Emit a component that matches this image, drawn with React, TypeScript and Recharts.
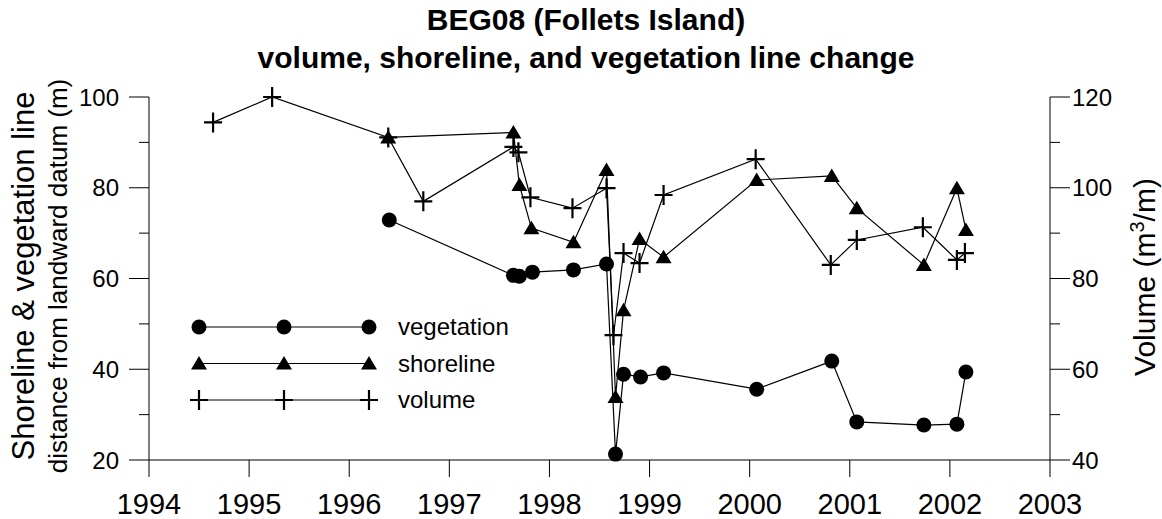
import React from 'react';
import { LineChart, Line, XAxis, YAxis, Legend } from 'recharts';

// ─── Data ────────────────────────────────────────────────────────────────────

const YEAR_TICKS = [1994, 1995, 1996, 1997, 1998, 1999, 2000, 2001, 2002, 2003];
const LEFT_TICKS = [20, 30, 40, 50, 60, 70, 80, 90, 100];
const RIGHT_TICKS = [40, 50, 60, 70, 80, 90, 100, 110, 120];

const VEG_YEARS = [1996.40, 1997.64, 1997.70, 1997.83, 1998.24, 1998.57, 1998.66, 1998.74, 1998.91, 1999.14, 2000.07, 2000.82, 2001.07, 2001.74, 2002.07, 2002.16];
const VEG_VALUES = [72.9, 60.7, 60.5, 61.4, 61.9, 63.2, 21.3, 38.9, 38.3, 39.2, 35.6, 41.8, 28.4, 27.7, 27.9, 39.4];

const SHORE_YEARS = [1996.39, 1997.64, 1997.70, 1997.82, 1998.24, 1998.57, 1998.66, 1998.74, 1998.90, 1999.14, 2000.07, 2000.82, 2001.07, 2001.74, 2002.07, 2002.16];
const SHORE_VALUES = [91.1, 92.2, 80.6, 71.1, 68.0, 83.9, 33.9, 53.0, 68.7, 64.7, 81.7, 82.6, 75.5, 63.0, 79.9, 70.7];

const VOL_YEARS = [1994.64, 1995.23, 1996.39, 1996.74, 1997.64, 1997.69, 1997.81, 1998.23, 1998.57, 1998.64, 1998.74, 1998.90, 1999.14, 2000.06, 2000.81, 2001.07, 2001.73, 2002.07, 2002.15];
const VOL_VALUES = [114.4, 120.0, 111.1, 97.0, 109.0, 107.8, 97.9, 95.5, 99.9, 67.5, 85.6, 83.4, 98.4, 106.3, 83.0, 88.5, 91.3, 84.1, 85.6];

const LEGEND_ORDER = ['vegetation', 'shoreline', 'volume'];

const toPoints = (years: number[], values: number[]) =>
  years.map((year, i) => ({ year, value: values[i] }));

const vegetation = toPoints(VEG_YEARS, VEG_VALUES);
const shoreline = toPoints(SHORE_YEARS, SHORE_VALUES);
const volume = toPoints(VOL_YEARS, VOL_VALUES);

// ─── Layout / style ──────────────────────────────────────────────────────────

const W = 1162;
const H = 519;
const FONT = '"Liberation Sans", Arial, sans-serif';
const PLOT_LEFT = 149;
const PLOT_RIGHT = 1050;

// ─── Markers ─────────────────────────────────────────────────────────────────

const CircleMark = ({ cx, cy }: { cx: number; cy: number }) => (
  <circle cx={cx} cy={cy} r={7.5} fill="#000" />
);

const TriangleMark = ({ cx, cy }: { cx: number; cy: number }) => (
  <path d={`M${cx},${cy - 7.5} L${cx + 8},${cy + 6} L${cx - 8},${cy + 6} Z`} fill="#000" />
);

const CrossMark = ({ cx, cy }: { cx: number; cy: number }) => (
  <path
    d={`M${cx - 9},${cy} H${cx + 9} M${cx},${cy - 10} V${cy + 10}`}
    stroke="#000"
    strokeWidth={2.2}
    fill="none"
  />
);

const MARKS: Record<string, (p: { cx: number; cy: number }) => React.ReactElement> = {
  vegetation: CircleMark,
  shoreline: TriangleMark,
  volume: CrossMark,
};

// ─── Axis ticks ──────────────────────────────────────────────────────────────

const LeftTick = (props: any) => {
  const { y, payload } = props;
  const major = (payload.value - 20) % 20 === 0;
  return (
    <g>
      <line x1={PLOT_LEFT - (major ? 20 : 10)} x2={PLOT_LEFT} y1={y} y2={y} stroke="#000" />
      {major && (
        <text x={119} y={y + 8.5} textAnchor="end" fontSize={24} fontFamily={FONT} fill="#000">
          {payload.value}
        </text>
      )}
    </g>
  );
};

const RightTick = (props: any) => {
  const { y, payload } = props;
  const major = payload.value % 20 === 0;
  return (
    <g>
      <line x1={PLOT_RIGHT} x2={PLOT_RIGHT + (major ? 20 : 10)} y1={y} y2={y} stroke="#000" />
      {major && (
        <text x={1072} y={y + 8.5} textAnchor="start" fontSize={24} fontFamily={FONT} fill="#000">
          {payload.value}
        </text>
      )}
    </g>
  );
};

const YearTick = (props: any) => {
  const { x, payload } = props;
  return (
    <text x={x} y={514} textAnchor="middle" fontSize={29} fontFamily={FONT} fill="#000">
      {payload.value}
    </text>
  );
};

// ─── Axis titles ─────────────────────────────────────────────────────────────

const LeftTitle = () => (
  <g fontFamily={FONT} fill="#000">
    <text transform="translate(34,276) rotate(-90)" textAnchor="middle" fontSize={31}>
      Shoreline &amp; vegetation line
    </text>
    <text transform="translate(67,276) rotate(-90)" textAnchor="middle" fontSize={26}>
      distance from landward datum (m)
    </text>
  </g>
);

const RightTitle = () => (
  <text transform="translate(1155,277) rotate(-90)" textAnchor="middle" fontSize={30} fontFamily={FONT} fill="#000">
    Volume (m
    <tspan fontSize={20} dy={-11}>3</tspan>
    <tspan dy={11}>/m)</tspan>
  </text>
);

// ─── Legend ──────────────────────────────────────────────────────────────────

const LegendBox = () => (
  <svg width={270} height={110} style={{ overflow: 'visible' }}>
    {LEGEND_ORDER.map((name, i) => {
      const y = 17 + i * 36.5;
      const Mark = MARKS[name];
      return (
        <g key={name}>
          <line x1={14} x2={184} y1={y} y2={y} stroke="#000" strokeWidth={1} />
          {[14, 99, 184].map((x) => (
            <Mark key={x} cx={x} cy={y} />
          ))}
          <text x={213} y={y + 8} fontSize={24} fontFamily={FONT} fill="#000">
            {name}
          </text>
        </g>
      );
    })}
  </svg>
);

// ─── Chart ───────────────────────────────────────────────────────────────────

export default function App() {
  return (
    <div style={{ position: 'absolute', left: 0, top: 0, width: W, height: H, background: '#fff' }}>
      <LineChart width={W} height={H} margin={{ top: 97, right: 0, bottom: 0, left: 0 }}>
        <XAxis
          dataKey="year"
          type="number"
          domain={[1994, 2003]}
          ticks={YEAR_TICKS}
          interval={0}
          height={59}
          tickSize={17}
          axisLine={{ stroke: '#000' }}
          tickLine={{ stroke: '#000' }}
          tick={<YearTick />}
        />
        <YAxis
          yAxisId="left"
          orientation="left"
          domain={[20, 100]}
          ticks={LEFT_TICKS}
          interval={0}
          width={149}
          axisLine={{ stroke: '#000' }}
          tickLine={false}
          tick={<LeftTick />}
          label={{ content: () => <LeftTitle /> }}
        />
        <YAxis
          yAxisId="right"
          orientation="right"
          domain={[40, 120]}
          ticks={RIGHT_TICKS}
          interval={0}
          width={112}
          axisLine={{ stroke: '#000' }}
          tickLine={false}
          tick={<RightTick />}
          label={{ content: () => <RightTitle /> }}
        />
        <Legend
          layout="vertical"
          align="center"
          verticalAlign="middle"
          wrapperStyle={{ left: 185, top: 310, width: 270, height: 110 }}
          content={() => <LegendBox />}
        />
        <Line
          yAxisId="left"
          data={vegetation}
          dataKey="value"
          name="vegetation"
          stroke="#000"
          strokeWidth={1.2}
          isAnimationActive={false}
          activeDot={false}
          dot={(p: any) => <CircleMark key={`veg-${p.index}`} cx={p.cx} cy={p.cy} />}
        />
        <Line
          yAxisId="left"
          data={shoreline}
          dataKey="value"
          name="shoreline"
          stroke="#000"
          strokeWidth={1.2}
          isAnimationActive={false}
          activeDot={false}
          dot={(p: any) => <TriangleMark key={`sh-${p.index}`} cx={p.cx} cy={p.cy} />}
        />
        <Line
          yAxisId="right"
          data={volume}
          dataKey="value"
          name="volume"
          stroke="#000"
          strokeWidth={1.2}
          isAnimationActive={false}
          activeDot={false}
          dot={(p: any) => <CrossMark key={`vol-${p.index}`} cx={p.cx} cy={p.cy} />}
        />
      </LineChart>
      <svg
        width={W}
        height={90}
        style={{ position: 'absolute', left: 0, top: 0, pointerEvents: 'none' }}
      >
        <g fontFamily={FONT} fontWeight="bold" fontSize={30} fill="#000" textAnchor="middle">
          <text x={586} y={30}>BEG08 (Follets Island)</text>
          <text x={586} y={68}>volume, shoreline, and vegetation line change</text>
        </g>
      </svg>
    </div>
  );
}
